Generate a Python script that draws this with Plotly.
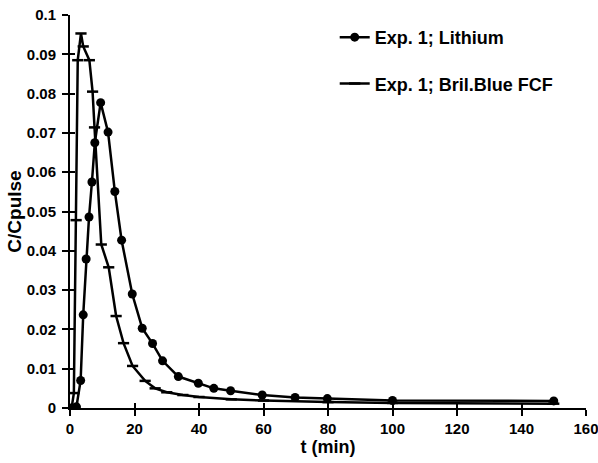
import plotly.graph_objects as go

# Lithium breakthrough (time in min, C/Cpulse)
t_li = [0, 1, 2, 3.3, 4.1, 5.0, 5.9, 6.8, 7.7, 9.5, 11.8, 13.9, 16.0, 19.3, 22.4,
        25.6, 28.7, 33.6, 39.8, 44.6, 49.8, 59.6, 69.8, 79.8, 100, 150]
c_li = [0, 0, 0.0003, 0.007, 0.0237, 0.0379, 0.0486, 0.0575, 0.0675, 0.0777, 0.0702,
        0.0551, 0.0427, 0.0290, 0.0203, 0.0164, 0.0120, 0.0080, 0.0063, 0.0050,
        0.0044, 0.0033, 0.0027, 0.0024, 0.0019, 0.0018]

# Brilliant Blue FCF breakthrough
t_bb = [0, 0.5, 1.2, 1.9, 2.4, 3.4, 4.1, 6.0, 7.0, 7.6, 9.7, 12.0, 14.3, 16.6, 19.4,
        23.3, 26.4, 30, 35, 40, 50, 60, 80, 100, 150]
c_bb = [0, 0, 0.0038, 0.0478, 0.0885, 0.0953, 0.0920, 0.0885, 0.0805, 0.0714, 0.0416,
        0.0358, 0.0234, 0.0165, 0.0107, 0.0069, 0.0050, 0.0040, 0.0033, 0.0028,
        0.0022, 0.0019, 0.0015, 0.0013, 0.0011]

names = ["Exp. 1; Lithium", "Exp. 1; Bril.Blue FCF"]
x_title = "t (min)"
y_title = "C/Cpulse"

FONT = "Liberation Sans, Arial, sans-serif"

fig = go.Figure()
fig.add_trace(go.Scatter(
    x=t_li, y=c_li, name=names[0], mode="lines+markers", legendgroup="a",
    line=dict(color="black", width=2.5),
    marker=dict(symbol="circle", size=9, color="black"),
))
fig.add_trace(go.Scatter(
    x=t_bb, y=c_bb, name=names[1], mode="lines+markers", legendgroup="b",
    line=dict(color="black", width=2.5),
    marker=dict(symbol="line-ew", size=8, color="black",
                line=dict(color="black", width=2.5)),
))
# empty trace to show crossing (inside) ticks on overlay axes
fig.add_trace(go.Scatter(x=[], y=[], xaxis="x2", yaxis="y2", showlegend=False,
                         hoverinfo="skip"))

axis_common = dict(showgrid=False, zeroline=False, linecolor="black", linewidth=2,
                   tickcolor="black", tickwidth=2, ticklen=6, ticks="outside",
                   automargin=False, ticklabeloverflow="allow",
                   tickfont=dict(family=FONT, size=15, color="black", weight="bold"))
overlay_common = dict(showgrid=False, zeroline=False, showline=False,
                      showticklabels=False, automargin=False,
                      ticks="inside", ticklen=5, tickwidth=2, tickcolor="black")

fig.update_layout(
    width=598, height=463,
    margin=dict(l=70, r=12, t=15, b=55),
    paper_bgcolor="white", plot_bgcolor="white",
    font=dict(family=FONT, color="black"),
    xaxis=dict(range=[0, 160], dtick=20, tick0=0, showline=True,
               title=dict(text=x_title, standoff=1,
                          font=dict(family=FONT, size=18, color="black", weight="bold")),
               **axis_common),
    yaxis=dict(range=[0, 0.1], dtick=0.01, tick0=0, showline=True,
               title=dict(text=y_title, standoff=0,
                          font=dict(family=FONT, size=19, color="black", weight="bold")),
               ticklabelstandoff=3,
               **axis_common),
    xaxis2=dict(range=[0, 160], dtick=20, tick0=0, overlaying="x", anchor="y2",
                **overlay_common),
    yaxis2=dict(range=[0, 0.1], dtick=0.01, tick0=0, overlaying="y", anchor="x2",
                **overlay_common),
    legend=dict(x=0.513, y=0.99, xanchor="left", yanchor="top",
                bgcolor="rgba(0,0,0,0)", itemwidth=30, tracegroupgap=20,
                traceorder="grouped",
                font=dict(family=FONT, size=18, color="black", weight="bold")),
    showlegend=True,
)

fig.write_html("out.html", config={"displayModeBar": False},
               post_script="document.body.style.margin='0';")
